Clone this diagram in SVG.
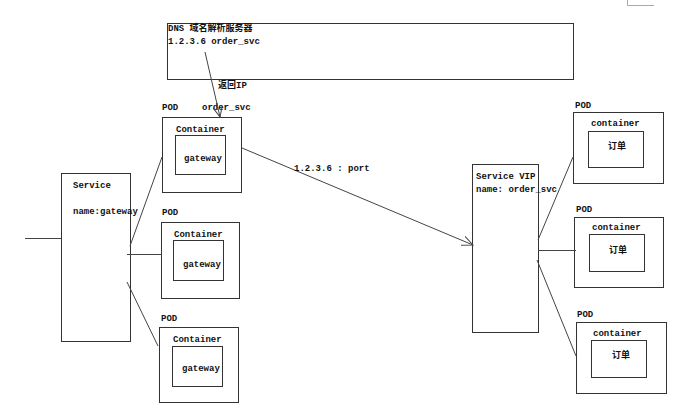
<svg xmlns="http://www.w3.org/2000/svg" width="673" height="414" viewBox="0 0 673 414">
<style>
text{font-family:"Liberation Mono","Noto Sans CJK SC",monospace;font-size:9px;font-weight:bold;fill:#111}
.box{fill:none;stroke:#333;stroke-width:1}
.ln{stroke:#444;stroke-width:1;fill:none}
</style>
<defs>
<marker id="arr" viewBox="0 0 12 10" refX="11" refY="5" markerWidth="12" markerHeight="10" markerUnits="userSpaceOnUse" orient="auto">
<path d="M0,0 L11,5 L0,10" fill="none" stroke="#444" stroke-width="1"/>
</marker>
</defs>
<rect width="673" height="414" fill="#fff"/>
<path d="M627.5,0 V5.5 H654" fill="none" stroke="#aaa" stroke-width="1"/>

<g id="dns">
<rect class="box" x="167.5" y="23.5" width="406" height="56"/>
<text x="168" y="31">DNS 域名解析服务器</text>
<text x="168" y="44">1.2.3.6 order_svc</text>
</g>

<g id="service-gateway">
<rect class="box" x="61.5" y="173.5" width="69" height="168"/>
<text x="73" y="188">Service</text>
<text x="73" y="214">name:gateway</text>
</g>

<g id="pod-gw-1">
<text x="162" y="110">POD</text>
<text x="202" y="110">order_svc</text>
<rect class="box" x="162.5" y="117.5" width="79" height="75"/>
<text x="176" y="132">Container</text>
<rect class="box" x="175.5" y="135.5" width="50" height="39"/>
<text x="184" y="161">gateway</text>
</g>

<g id="pod-gw-2">
<text x="162" y="215">POD</text>
<rect class="box" x="161.5" y="222.5" width="78" height="76"/>
<text x="174" y="237">Container</text>
<rect class="box" x="173.5" y="240.5" width="50" height="40"/>
<text x="183" y="267">gateway</text>
</g>

<g id="pod-gw-3">
<text x="161" y="321">POD</text>
<rect class="box" x="159.5" y="327.5" width="79" height="75"/>
<text x="173" y="342">Container</text>
<rect class="box" x="172.5" y="346.5" width="50" height="40"/>
<text x="182" y="371">gateway</text>
</g>

<g id="service-vip">
<rect class="box" x="472.5" y="164.5" width="66" height="168"/>
<text x="476" y="179">Service VIP</text>
<text x="476" y="192">name: order_svc</text>
</g>

<g id="pod-order-1">
<text x="575" y="108">POD</text>
<rect class="box" x="573.5" y="112.5" width="90" height="71"/>
<text x="591" y="126">container</text>
<rect class="box" x="588.5" y="131.5" width="55" height="36"/>
<text x="608" y="149">订单</text>
</g>

<g id="pod-order-2">
<text x="576" y="212">POD</text>
<rect class="box" x="574.5" y="217.5" width="89" height="70"/>
<text x="592" y="230">container</text>
<rect class="box" x="589.5" y="234.5" width="55" height="37"/>
<text x="609" y="253">订单</text>
</g>

<g id="pod-order-3">
<text x="577" y="317">POD</text>
<rect class="box" x="576.5" y="322.5" width="90" height="71"/>
<text x="593" y="336">container</text>
<rect class="box" x="591.5" y="340.5" width="55" height="37"/>
<text x="612" y="358">订单</text>
</g>

<g id="connectors">
<line class="ln" x1="25" y1="238.5" x2="61" y2="238.5"/>
<line class="ln" x1="205" y1="52" x2="220" y2="117" marker-end="url(#arr)"/>
<text x="218" y="88">返回IP</text>
<line class="ln" x1="130" y1="246" x2="162" y2="157"/>
<line class="ln" x1="127" y1="254.5" x2="162" y2="254.5"/>
<line class="ln" x1="127" y1="282" x2="158" y2="346"/>
<line class="ln" x1="242" y1="148" x2="473" y2="245" marker-end="url(#arr)"/>
<text x="294" y="171">1.2.3.6 : port</text>
<line class="ln" x1="538" y1="240" x2="573" y2="157"/>
<line class="ln" x1="538" y1="250.5" x2="576" y2="250.5"/>
<line class="ln" x1="537" y1="260" x2="576" y2="356"/>
</g>
</svg>
